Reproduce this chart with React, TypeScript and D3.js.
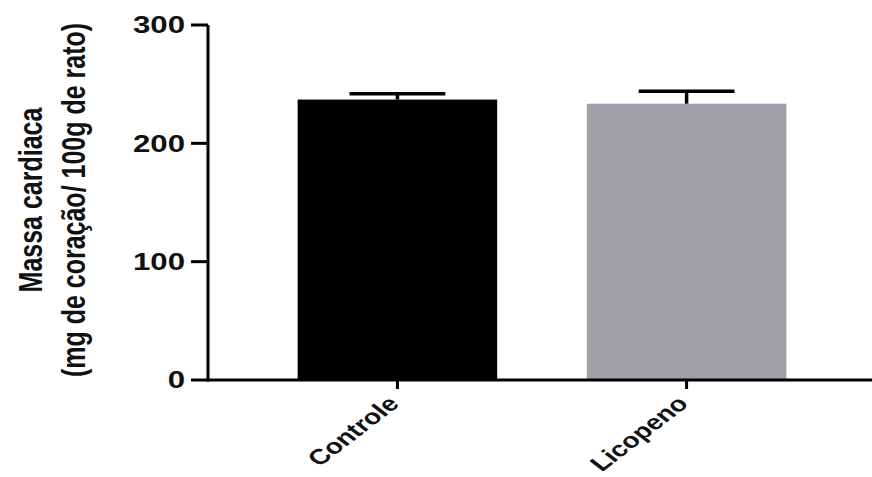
import React from "react";
import * as d3 from "d3";

const width = 872;
const height = 477;

// values
const groups = ["Controle", "Licopeno"];
const means = [237, 233.5];
const sem = [5, 10.5];
const yTicks = [0, 100, 200, 300];
const barColors = ["#000000", "#a09fa5"];

const yLabel1 = "Massa cardiaca";
const yLabel2 = "(mg de coração/ 100g de rato)";

const axisX = 208;
const axisY = 380;
const font = "'Liberation Sans', Arial, sans-serif";
// the source picture is stretched sideways, so text is too
const stretch = 1.3;

const App = () => {
  const xScale = d3
    .scaleBand<string>()
    .domain(groups)
    .range([axisX, 876])
    .paddingInner(0.31)
    .paddingOuter(0.31);

  const yScale = d3.scaleLinear().domain([0, 300]).range([axisY, 25]);

  const bars = groups.map((g, i) => {
    const x = xScale(g) as number;
    const bw = xScale.bandwidth();
    return {
      name: g,
      x,
      w: bw,
      cx: x + bw / 2,
      y: yScale(means[i]),
      top: yScale(means[i] + sem[i]),
      fill: barColors[i]
    };
  });

  return (
    <svg
      width={width}
      height={height}
      style={{ position: "absolute", left: 0, top: 0, background: "#fff" }}
    >
      {bars.map((d, i) => (
        <rect key={i} x={d.x} y={d.y} width={d.w} height={axisY - d.y} fill={d.fill} />
      ))}

      {/* error bars, upper half only */}
      {bars.map((d, i) => (
        <g key={"e" + i} stroke="#000" strokeWidth={3.5}>
          <line x1={d.cx} x2={d.cx} y1={d.y} y2={d.top} />
          <line x1={d.cx - d.w * 0.24} x2={d.cx + d.w * 0.24} y1={d.top} y2={d.top} />
        </g>
      ))}

      {/* y axis */}
      <line x1={axisX} x2={axisX} y1={yScale(300)} y2={axisY + 1.5} stroke="#000" strokeWidth={3} />
      {yTicks.map(t => (
        <g key={t}>
          <line x1={axisX - 17} x2={axisX} y1={yScale(t)} y2={yScale(t)} stroke="#000" strokeWidth={3} />
          <text
            transform={`translate(185,${yScale(t)}) scale(${stretch},1)`}
            dy="0.35em"
            textAnchor="end"
            fontFamily={font}
            fontWeight="bold"
            fontSize={24}
            fill="#111"
          >
            {t}
          </text>
        </g>
      ))}

      {/* x axis */}
      <line x1={axisX - 1.5} x2={width} y1={axisY} y2={axisY} stroke="#000" strokeWidth={3} />
      {bars.map((d, i) => (
        <g key={"x" + i}>
          <line x1={d.cx} x2={d.cx} y1={axisY} y2={axisY + 9} stroke="#000" strokeWidth={3} />
          <text
            transform={`translate(${d.cx + 3},${axisY + 25}) scale(${stretch},1) rotate(-45)`}
            textAnchor="end"
            fontFamily={font}
            fontWeight="bold"
            fontSize={21.5}
            fill="#111"
          >
            {d.name}
          </text>
        </g>
      ))}

      {/* y axis title */}
      <text
        transform={`translate(42,200) scale(${stretch},1) rotate(-90)`}
        textAnchor="middle"
        fontFamily={font}
        fontWeight="bold"
        fontSize={25}
        fill="#111"
      >
        {yLabel1}
      </text>
      <text
        transform={`translate(85,200) scale(${stretch},1) rotate(-90)`}
        textAnchor="middle"
        fontFamily={font}
        fontWeight="bold"
        fontSize={25}
        fill="#111"
      >
        {yLabel2}
      </text>
    </svg>
  );
};

export default App;
